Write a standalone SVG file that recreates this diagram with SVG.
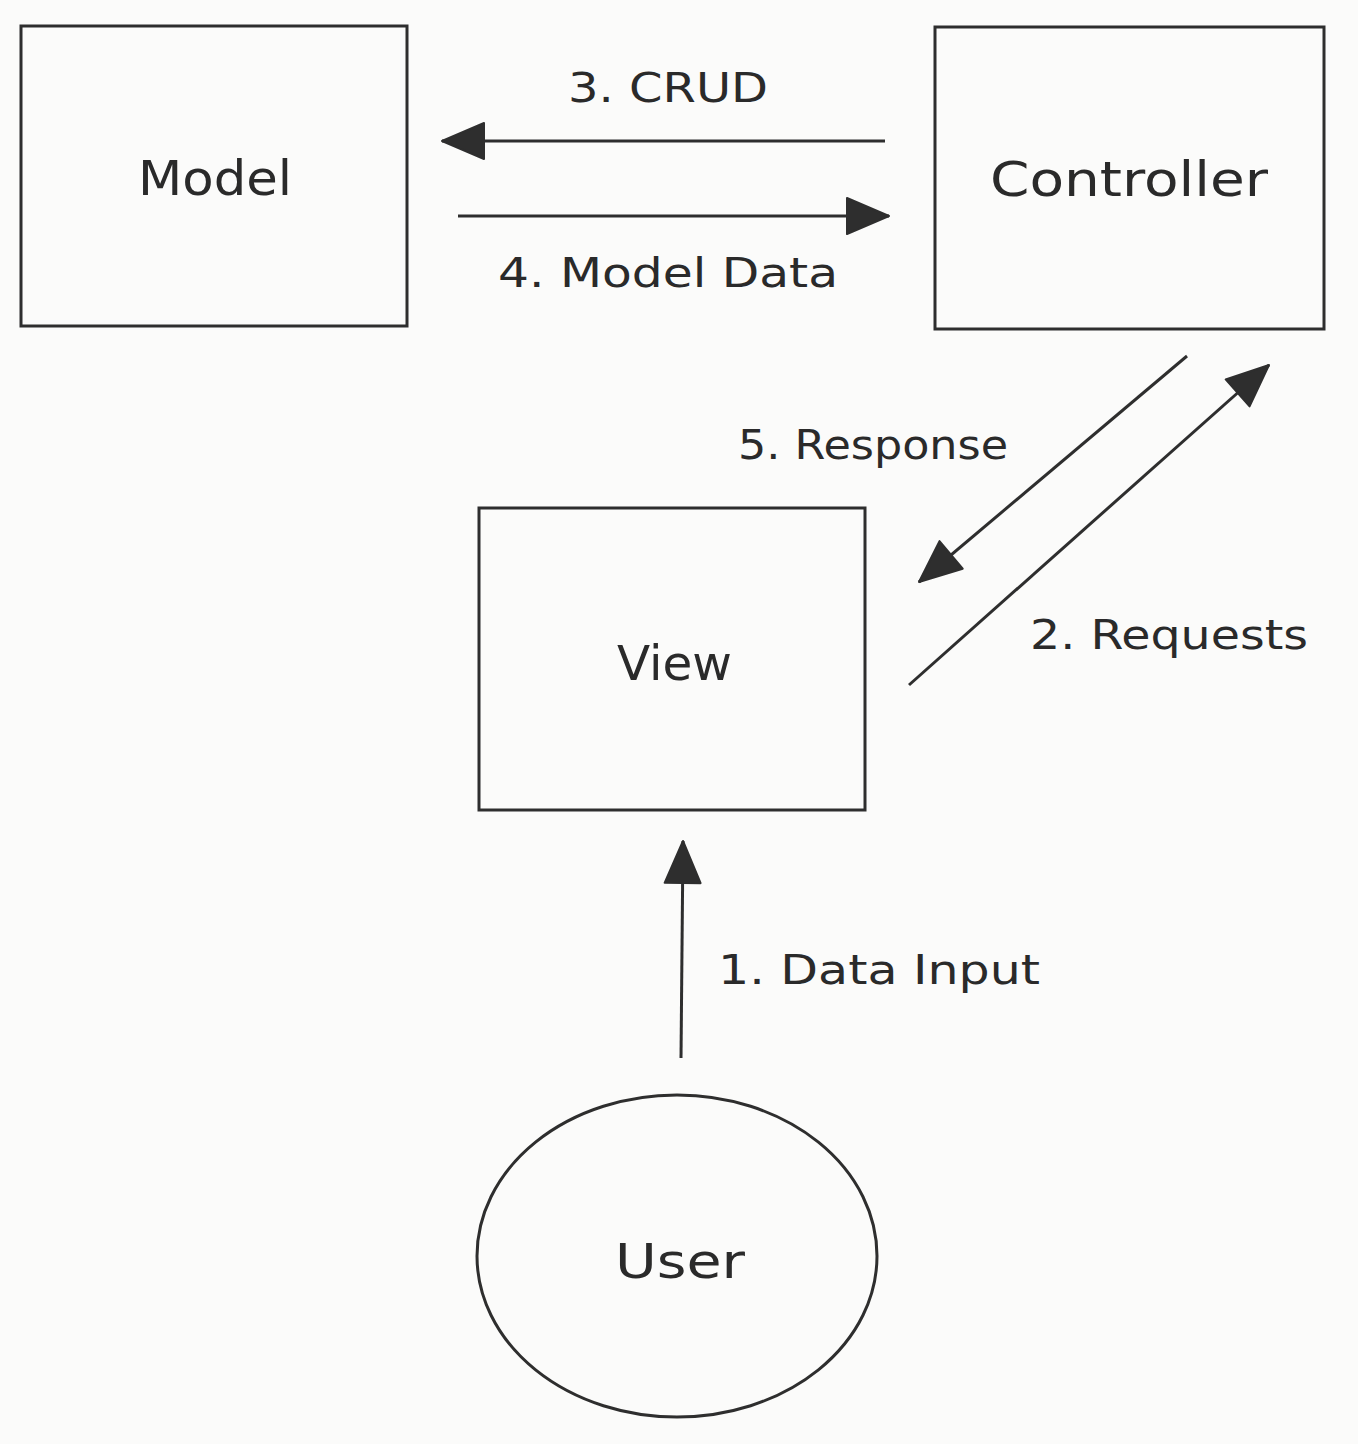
<svg xmlns="http://www.w3.org/2000/svg" width="1358" height="1444" viewBox="0 0 1358 1444">
<style>
.box{fill:none;stroke:#2e2e2e;stroke-width:3}
.ln{fill:none;stroke:#2e2e2e;stroke-width:3}
.node{font-family:"DejaVu Sans","Liberation Sans",sans-serif;font-size:48px;fill:#2a2a2a}
.lbl{font-family:"DejaVu Sans","Liberation Sans",sans-serif;font-size:40px;fill:#2a2a2a}
</style>
<defs>
<marker id="big" viewBox="0 0 46 40" refX="44" refY="20" markerWidth="46" markerHeight="40" markerUnits="userSpaceOnUse" orient="auto">
<path d="M2,2 L44,20 L2,38 Z" fill="#2e2e2e" stroke="#2e2e2e" stroke-width="2" stroke-linejoin="round"/>
</marker>
</defs>
<rect width="1358" height="1444" fill="#fbfbfa"/>
<g id="model">
<rect class="box" x="21" y="26" width="386" height="300"/>
<text class="node" x="138" y="195" textLength="154" lengthAdjust="spacingAndGlyphs">Model</text>
</g>
<g id="controller">
<rect class="box" x="935" y="27" width="389" height="302"/>
<text class="node" x="990" y="196" textLength="278" lengthAdjust="spacingAndGlyphs">Controller</text>
</g>
<g id="view">
<rect class="box" x="479" y="508" width="386" height="302"/>
<text class="node" x="617" y="680" textLength="115" lengthAdjust="spacingAndGlyphs">View</text>
</g>
<g id="user">
<ellipse class="box" cx="677" cy="1256" rx="200" ry="161"/>
<text class="node" x="615" y="1278" textLength="130" lengthAdjust="spacingAndGlyphs">User</text>
</g>
<g id="connectors">
<line class="ln" x1="885" y1="141" x2="442" y2="141" marker-end="url(#big)"/>
<line class="ln" x1="458" y1="216" x2="889" y2="216" marker-end="url(#big)"/>
<line class="ln" x1="1187" y1="356" x2="919" y2="582" marker-end="url(#big)"/>
<line class="ln" x1="909" y1="685" x2="1269" y2="365" marker-end="url(#big)"/>
<line class="ln" x1="681" y1="1058" x2="683" y2="841" marker-end="url(#big)"/>
<text class="lbl" x="568" y="102" textLength="200" lengthAdjust="spacingAndGlyphs">3. CRUD</text>
<text class="lbl" x="498" y="287" textLength="340" lengthAdjust="spacingAndGlyphs">4. Model Data</text>
<text class="lbl" x="738" y="459" textLength="270" lengthAdjust="spacingAndGlyphs">5. Response</text>
<text class="lbl" x="1030" y="649" textLength="278" lengthAdjust="spacingAndGlyphs">2. Requests</text>
<text class="lbl" x="718" y="984" textLength="322" lengthAdjust="spacingAndGlyphs">1. Data Input</text>
</g>
</svg>
